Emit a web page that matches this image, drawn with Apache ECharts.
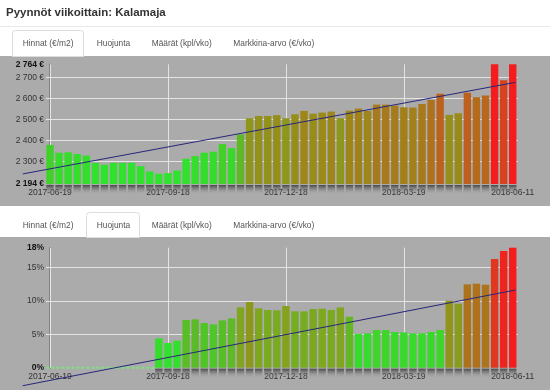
<!DOCTYPE html>
<html><head><meta charset="utf-8">
<script src="https://cdn.jsdelivr.net/npm/echarts@6/dist/echarts.min.js"></script>
<style>html,body{margin:0;padding:0;background:#fff}#c{width:550px;height:390px}</style>
</head><body><div id="c"></div>
<script>
const titleText = 'Pyynnöt viikoittain: Kalamaja';
const tabLabels = ['Hinnat (€/m2)', 'Huojunta', 'Määrät (kpl/vko)', 'Markkina-arvo (€/vko)'];
const dateLabels = ['2017-06-19', '2017-09-18', '2017-12-18', '2018-03-19', '2018-06-11'];
const dateTickWeeks = [0, 13, 26, 39, 51];
const vGridWeeks = [0, 13, 26, 39];

// weekly price (€/m2)
const prices = [2380, 2343, 2345, 2337, 2329, 2295, 2286, 2295, 2295, 2295, 2279, 2254, 2243,
  2246, 2258, 2314, 2327, 2343, 2348, 2384, 2365, 2430, 2507, 2518, 2518, 2522, 2507,
  2526, 2542, 2529, 2534, 2539, 2507, 2543, 2553, 2542, 2572, 2572, 2567, 2559, 2558,
  2575, 2594, 2624, 2523, 2531, 2629, 2607, 2616, 2764, 2688, 2764];
const priceTicks = [2194, 2300, 2400, 2500, 2600, 2700, 2764];
const priceGrid = [2300, 2400, 2500, 2600, 2700];
const priceTrend = [-3, 2242, 51.3, 2678];   // [week0, value0, week1, value1]

// weekly volatility (%)
const volatility = [0, 0, 0, 0, 0, 0, 0, 0, 0, 0, 0, 0,
  4.4, 3.7, 4.05, 7.15, 7.25, 6.7, 6.5, 7.1, 7.4, 9.05, 9.85, 8.9, 8.65, 8.6, 9.25,
  8.45, 8.45, 8.8, 8.85, 8.65, 9.05, 7.65, 5.05, 5.15, 5.65, 5.65, 5.35, 5.3, 5.15,
  5.15, 5.35, 5.65, 10.05, 9.6, 12.5, 12.6, 12.45, 16.3, 17.5, 18];
const volTicks = [0, 5, 10, 15, 18];
const volGrid = [5, 10, 15];
const volTrend = [-3, -2.7, 51.3, 11.65];

const colorStops = ['#2ee42e', '#2ee42e', '#30e22c', '#38da2a', '#5abc26', '#80a61e',
  '#9c8818', '#ae721c', '#c6561e', '#de3a1e', '#f41c1c'];

const FONT = 'Liberation Sans, Arial, sans-serif';
const chart = echarts.init(document.getElementById('c'));

function fmtPrice(v) { return String(v).replace(/\B(?=(\d{3})+(?!\d))/g, ' ') + ' €'; }
function dateFor(v) { const k = dateTickWeeks.indexOf(Math.round(v)); return k >= 0 ? dateLabels[k] : ''; }

const shadowGrad = new echarts.graphic.LinearGradient(0, 0, 0, 1, [
  { offset: 0, color: 'rgba(55,55,55,0.85)' }, { offset: 1, color: 'rgba(150,150,150,0.05)' }]);
function shadowRender(baseVal) {
  return function (params, api) {
    const p = api.coord([api.value(0), baseVal]);
    return { type: 'rect', shape: { x: p[0] - 3.7, y: p[1] + 1, width: 7.4, height: 8.5 },
      style: { fill: shadowGrad } };
  };
}
function trendRender(params, api) {
  const a = api.coord([api.value(0), api.value(1)]);
  const b = api.coord([api.value(2), api.value(3)]);
  return { type: 'line', shape: { x1: a[0], y1: a[1], x2: b[0], y2: b[1] },
    style: { stroke: '#26267c', lineWidth: 1 } };
}

function xAxisCfg(gridIndex) {
  return {
    type: 'value', gridIndex, min: -0.44, max: 51.58,
    axisLine: { show: false }, axisTick: { show: false }, splitLine: { show: false },
    axisLabel: {
      customValues: dateTickWeeks, margin: 4, fontSize: 8.5, fontFamily: FONT, color: '#333',
      formatter: (v, i) => (i % 2 ? '{lo|' : '{hi|') + dateFor(v) + '}',
      rich: { hi: { fontSize: 8.5, fontFamily: FONT, color: '#333' },
              lo: { fontSize: 8.5, fontFamily: FONT, color: '#333', padding: [8, 0, 0, 0] } }
    }
  };
}
function yAxisCfg(gridIndex, min, max, ticks, fmt) {
  return {
    type: 'value', gridIndex, min, max,
    axisLine: { show: true, lineStyle: { color: '#7a7a7a', width: 1.6 } },
    axisTick: { show: false }, splitLine: { show: false },
    axisLabel: {
      customValues: ticks, margin: 2, fontSize: 8.5, fontFamily: FONT, color: '#333',
      formatter: v => (v === ticks[0] || v === ticks[ticks.length - 1]) ? '{b|' + fmt(v) + '}' : fmt(v),
      rich: { b: { fontSize: 8.5, fontFamily: FONT, fontWeight: 'bold', color: '#111' } }
    }
  };
}
function gridMarks(hVals) {
  return {
    silent: true, symbol: 'none', z: 1, label: { show: false },
    lineStyle: { color: '#e4e4e4', width: 1, type: 'solid' },
    data: hVals.map(v => ({ yAxis: v })).concat(vGridWeeks.map(w => ({ xAxis: w })))
  };
}

const zeroWeeks = volatility.map((v, i) => v === 0 ? i : -1).filter(i => i >= 0);

const tabTexts = (y) => tabLabels.map((t, k) => ({
  type: 'text', x: [22.7, 96.7, 151.7, 233.3][k], y,
  style: { text: t, font: '8.4px ' + FONT, fill: '#555', textVerticalAlign: 'middle' }
}));

chart.setOption({
  backgroundColor: '#fff',
  animation: false,
  title: { text: titleText, left: 6, top: 7, padding: 0,
    textStyle: { fontSize: 11.5, fontWeight: 'bold', color: '#333', fontFamily: FONT } },
  graphic: [
    { type: 'rect', z: -10, shape: { x: 0, y: 26, width: 550, height: 1 }, style: { fill: '#e8e8e8' } },
    { type: 'rect', z: -10, shape: { x: 0, y: 56, width: 550, height: 150 }, style: { fill: '#ababab' } },
    { type: 'rect', z: -10, shape: { x: 0, y: 237, width: 550, height: 153 }, style: { fill: '#ababab' } },
    { type: 'rect', z: -9, shape: { x: 12.5, y: 30.5, width: 71, height: 26, r: [3, 3, 0, 0] },
      style: { fill: '#fff', stroke: '#dddddd', lineWidth: 1 } },
    { type: 'rect', z: -9, shape: { x: 86.5, y: 212.5, width: 53, height: 25, r: [3, 3, 0, 0] },
      style: { fill: '#fff', stroke: '#dddddd', lineWidth: 1 } },
    ...tabTexts(43.5), ...tabTexts(225.5)
  ],
  grid: [
    { left: 46, top: 64.3, width: 472, height: 119.7 },
    { left: 46, top: 247.7, width: 472, height: 120 }
  ],
  xAxis: [xAxisCfg(0), xAxisCfg(1)],
  yAxis: [
    yAxisCfg(0, priceTicks[0], priceTicks[priceTicks.length - 1], priceTicks, fmtPrice),
    yAxisCfg(1, volTicks[0], volTicks[volTicks.length - 1], volTicks, v => v + '%')
  ],
  visualMap: [
    { type: 'continuous', show: false, seriesIndex: 0, dimension: 1,
      min: priceTicks[0], max: priceTicks[priceTicks.length - 1], inRange: { color: colorStops } },
    { type: 'continuous', show: false, seriesIndex: 3, dimension: 1,
      min: volTicks[0], max: volTicks[volTicks.length - 1], inRange: { color: colorStops } }
  ],
  series: [
    { type: 'bar', xAxisIndex: 0, yAxisIndex: 0, barWidth: 7.4, clip: true,
      data: prices.map((v, i) => [i, v]), markLine: gridMarks(priceGrid), z: 3 },
    { type: 'custom', xAxisIndex: 0, yAxisIndex: 0, clip: false, z: 2, silent: true,
      renderItem: shadowRender(priceTicks[0]), data: prices.map((v, i) => [i, v]) },
    { type: 'custom', xAxisIndex: 0, yAxisIndex: 0, clip: false, z: 5, silent: true,
      renderItem: trendRender, encode: { x: [0, 2], y: [1, 3] }, data: [priceTrend] },

    { type: 'bar', xAxisIndex: 1, yAxisIndex: 1, barWidth: 7.4, clip: true,
      data: volatility.map((v, i) => [i, v]).filter(d => d[1] > 0), markLine: gridMarks(volGrid), z: 3 },
    { type: 'custom', xAxisIndex: 1, yAxisIndex: 1, clip: false, z: 2, silent: true,
      renderItem: shadowRender(volTicks[0]),
      data: volatility.map((v, i) => [i, v]).filter(d => d[1] > 0) },
    { type: 'line', xAxisIndex: 1, yAxisIndex: 1, clip: false, symbol: 'none', z: 4,
      lineStyle: { color: '#7ee27e', width: 2, type: [3, 2] },
      data: [[zeroWeeks[0] - 0.4, 0], [zeroWeeks[zeroWeeks.length - 1] + 0.5, 0]] },
    { type: 'custom', xAxisIndex: 1, yAxisIndex: 1, clip: false, z: 5, silent: true,
      renderItem: trendRender, encode: { x: [0, 2], y: [1, 3] }, data: [volTrend] }
  ]
});
</script></body></html>
